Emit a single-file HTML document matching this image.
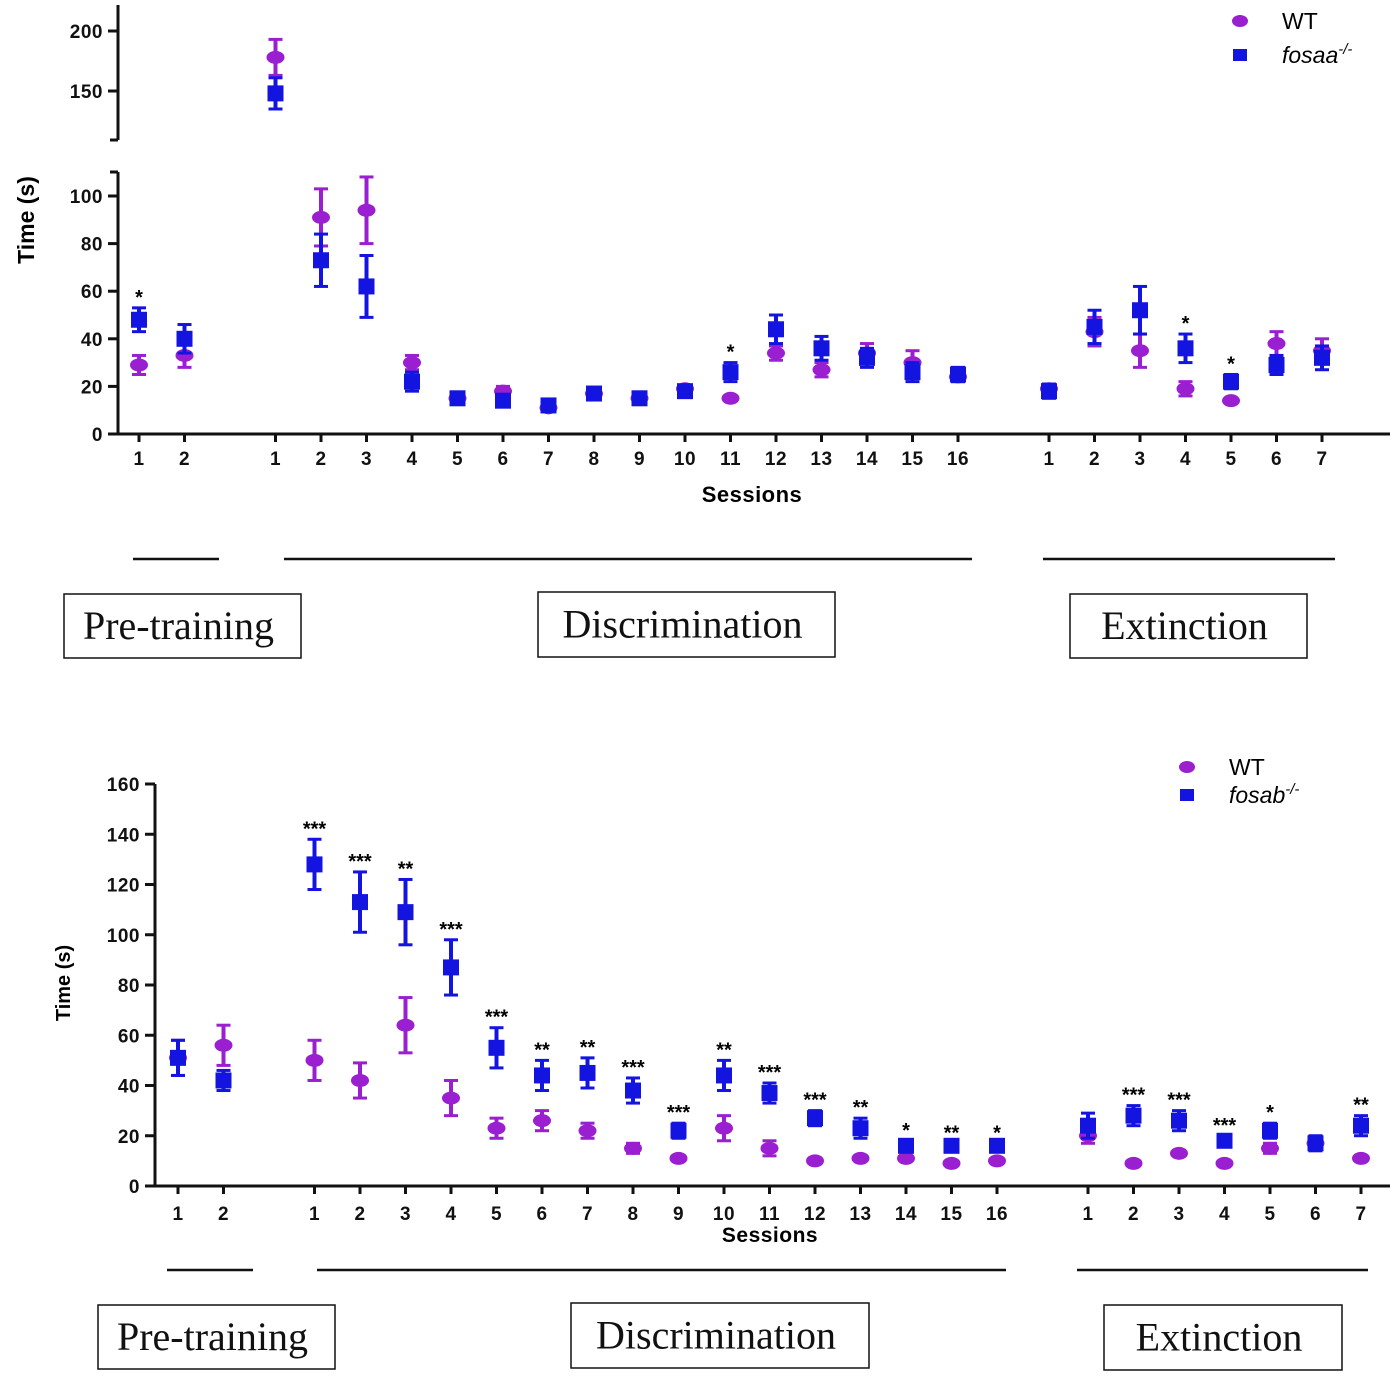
<!DOCTYPE html>
<html><head><meta charset="utf-8">
<style>
body{margin:0;background:#fff;width:1400px;height:1379px;overflow:hidden}
svg{display:block}
.tk{font:bold 19px "Liberation Sans",sans-serif;fill:#111;letter-spacing:0.5px}
.box{font:40px "Liberation Serif",serif;fill:#111}
</style></head>
<body>
<svg id="s" width="1400" height="1379"></svg>
<script>
// x index: pre-training 0,1 ; discrimination 3..18 ; extinction 20..26
const xIndex=[0,1,3,4,5,6,7,8,9,10,11,12,13,14,15,16,17,18,20,21,22,23,24,25,26];
const xLabels=["1","2","1","2","3","4","5","6","7","8","9","10","11","12","13","14","15","16","1","2","3","4","5","6","7"];
// Top chart (fosaa)
const topWT=[29,33,178,91,94,30,15,18,11,17,15,19,15,34,27,34,30,24,19,43,35,19,14,38,35];
const topWTerr=[4,5,15,12,14,3,1,2,1,1,1,1,1,3,3,4,5,2,2,6,7,3,1,5,5];
const topKO=[48,40,148,73,62,22,15,14,12,17,15,18,26,44,36,32,26,25,18,45,52,36,22,29,32];
const topKOerr=[5,6,13,11,13,4,1,2,1,2,1,2,4,6,5,4,4,3,3,7,10,6,3,4,5];
const topSig=["*","","","","","","","","","","","","*","","","","","","","","","*","*","",""];
// Bottom chart (fosab)
const botWT=[51,56,50,42,64,35,23,26,22,15,11,23,15,10,11,11,9,10,20,9,13,9,15,17,11];
const botWTerr=[7,8,8,7,11,7,4,4,3,2,1,5,3,1,1,1,1,1,3,1,1,1,2,2,1];
const botKO=[51,42,128,113,109,87,55,44,45,38,22,44,37,27,23,16,16,16,24,28,26,18,22,17,24];
const botKOerr=[7,4,10,12,13,11,8,6,6,5,3,6,4,3,4,2,1,1,5,4,4,2,3,3,4];
const botSig=["","","***","***","**","***","***","**","**","***","***","**","***","***","**","*","**","*","","***","***","***","*","","**"];
const yTicksTop=[0,20,40,60,80,100];
const yTicksTopUpper=[150,200];
const yTicksBot=[0,20,40,60,80,100,120,140,160];

const NS="http://www.w3.org/2000/svg";
const svg=document.getElementById('s');
function mk(t,a,txt,p){const e=document.createElementNS(NS,t);for(const k in a)e.setAttribute(k,a[k]);if(txt!=null)e.textContent=txt;(p||svg).appendChild(e);return e;}
const PURPLE="#9a1fd0",BLUE="#1414e0";

function drawChart(cfg){
  const g=mk('g',{});
  
  
  const xs=i=>cfg.x0+xIndex[i]*cfg.dx;
  const ys=v=>{
    if(cfg.upper && v>cfg.upper.min) return cfg.upper.y0-(v-cfg.upper.v0)*cfg.upper.k;
    return cfg.y0-v*cfg.k;
  };
  const xa=mk('line',{x1:cfg.ax,y1:cfg.y0,x2:1390,y2:cfg.y0,stroke:'#111','stroke-width':3},null,g);
  
  const ya=mk('line',{x1:cfg.ax,y1:cfg.y0,x2:cfg.ax,y2:cfg.yTop,stroke:'#111','stroke-width':3},null,g);
  
  cfg.ticks.forEach(v=>{
    const y=cfg.y0-v*cfg.k;
    mk('line',{x1:cfg.ax-10,y1:y,x2:cfg.ax,y2:y,stroke:'#111','stroke-width':3},null,g);
    const t=mk('text',{x:cfg.ax-15,y:y+7,'text-anchor':'end',class:'tk'},String(v),g);
    
  });
  if(cfg.upper){
    const u=cfg.upper;
    mk('line',{x1:cfg.ax,y1:u.yb,x2:cfg.ax,y2:5,stroke:'#111','stroke-width':3},null,g);
    mk('line',{x1:cfg.ax-8,y1:u.yb,x2:cfg.ax,y2:u.yb,stroke:'#111','stroke-width':3},null,g);
    mk('line',{x1:cfg.ax-8,y1:cfg.yTop,x2:cfg.ax,y2:cfg.yTop,stroke:'#111','stroke-width':3},null,g);
    u.ticks.forEach(v=>{
      const y=u.y0-(v-u.v0)*u.k;
      mk('line',{x1:cfg.ax-10,y1:y,x2:cfg.ax,y2:y,stroke:'#111','stroke-width':3},null,g);
      const t=mk('text',{x:cfg.ax-15,y:y+7,'text-anchor':'end',class:'tk'},String(v),g);
      
    });
  }
  xLabels.forEach((l,i)=>{
    const x=xs(i);
    mk('line',{x1:x,y1:cfg.y0,x2:x,y2:cfg.y0+8,stroke:'#111','stroke-width':3},null,g);
    const t=mk('text',{x:x,y:cfg.y0+cfg.lblOff,'text-anchor':'middle',class:'tk'},l,g);
    
  });
  function err(x,m,e,col){
    const a=ys(m-e),b=ys(m+e);
    mk('line',{x1:x,y1:a,x2:x,y2:b,stroke:col,'stroke-width':4},null,g);
    mk('line',{x1:x-7,y1:a,x2:x+7,y2:a,stroke:col,'stroke-width':3},null,g);
    mk('line',{x1:x-7,y1:b,x2:x+7,y2:b,stroke:col,'stroke-width':3},null,g);
  }
  cfg.wt.forEach((m,i)=>{
    const x=xs(i);err(x,m,cfg.wtErr[i],PURPLE);
    const p=mk('ellipse',{cx:x,cy:ys(m),rx:9,ry:6.5,fill:PURPLE},null,g);
    
  });
  cfg.ko.forEach((m,i)=>{
    const x=xs(i);err(x,m,cfg.koErr[i],BLUE);
    const p=mk('rect',{x:x-8,y:ys(m)-8,width:16,height:16,fill:BLUE},null,g);
    
    if(cfg.sig[i]){
      const top=Math.min(ys(m+cfg.koErr[i]),ys(cfg.wt[i]+cfg.wtErr[i]));
      const s=mk('text',{x:x,y:top-4,'text-anchor':'middle',style:'font:bold 20px "Liberation Sans",sans-serif'},cfg.sig[i],g);
      
    }
  });
}

drawChart({name:'top-chart',x0:139,dx:45.5,ax:118,y0:434,k:2.38,yTop:172,ticks:yTicksTop,lblOff:31,
  upper:{min:120,v0:150,y0:91,k:1.2,yb:140,ticks:yTicksTopUpper},
  wt:topWT,wtErr:topWTerr,ko:topKO,koErr:topKOerr,sig:topSig});
drawChart({name:'bottom-chart',x0:178,dx:45.5,ax:155,y0:1186,k:2.5125,yTop:784,ticks:yTicksBot,lblOff:34,
  wt:botWT,wtErr:botWTerr,ko:botKO,koErr:botKOerr,sig:botSig});

function txt(name,a,s){const t=mk('text',a,s);return t;}
txt('y-axis-title',{x:0,y:0,transform:'translate(34,220) rotate(-90)','text-anchor':'middle',style:'font:bold 23px "Liberation Sans",sans-serif'},'Time (s)');
txt('y-axis-title',{x:0,y:0,transform:'translate(70,983) rotate(-90)','text-anchor':'middle',style:'font:bold 20px "Liberation Sans",sans-serif'},'Time (s)');
txt('x-axis-title',{x:752,y:502,'text-anchor':'middle',style:'font:bold 22px "Liberation Sans",sans-serif;letter-spacing:0.5px'},'Sessions');
txt('x-axis-title',{x:770,y:1242,'text-anchor':'middle',style:'font:bold 21px "Liberation Sans",sans-serif;letter-spacing:0.5px'},'Sessions');
function legend(x,y1,y2,name){
  const e=mk('ellipse',{cx:x,cy:y1,rx:8,ry:6,fill:PURPLE});
  txt('legend-wt',{x:x+42,y:y1+8,style:'font:23px "Liberation Sans",sans-serif'},'WT');
  const r=mk('rect',{x:x-7,y:y2-6,width:14,height:12,fill:BLUE});
  const t=txt('legend-ko',{x:x+42,y:y2+8,style:'font:italic 23px "Liberation Sans",sans-serif'},name);
  mk('tspan',{dy:-9,style:'font-size:15px'},'-/-',t);
}
legend(1240,21,55,'fosaa');
legend(1187,767,795,'fosab');
function phase(l1,l2,y,bx,by,bw,bh,label){
  const ln=mk('line',{x1:l1,y1:y,x2:l2,y2:y,stroke:'#111','stroke-width':2.5});
  
  const r=mk('rect',{x:bx,y:by,width:bw,height:bh,fill:'none',stroke:'#111','stroke-width':1.5});
  
  txt('phase-label',{x:bx+bw/2-4,y:by+bh/2+13,'text-anchor':'middle',class:'box'},label);
}
phase(133,219,559,64,594,237,64,'Pre-training');
phase(284,972,559,538,592,297,65,'Discrimination');
phase(1043,1335,559,1070,594,237,64,'Extinction');
phase(167,253,1270,98,1305,237,64,'Pre-training');
phase(317,1006,1270,571,1303,298,65,'Discrimination');
phase(1077,1368,1270,1104,1305,238,65,'Extinction');
</script>
</body></html>
